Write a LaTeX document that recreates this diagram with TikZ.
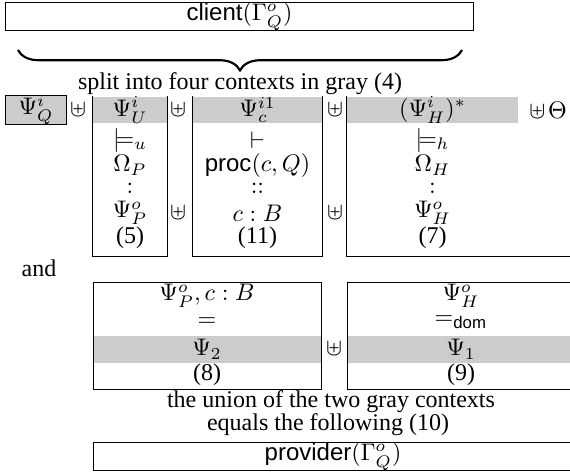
\documentclass[tikz,border=0pt]{standalone}
\usepackage{fontspec}
\setmainfont{Liberation Serif}
\setsansfont{Liberation Sans}
\usetikzlibrary{decorations.pathreplacing}
\colorlet{ctxgray}{black!20}

\begin{document}
\begin{tikzpicture}[
x=0.4167pt, y=-0.4167pt,
every node/.style={inner sep=0pt},
box/.style={draw, minimum height=11.25pt},
band/.style={fill=ctxgray, minimum height=11pt}
]
\useasboundingbox (0,0) rectangle (570,472);
\clip (0,0) rectangle (570,472);

\node[box, minimum width=195.4pt] (client) at (239.5,16.5) {\textsf{client}$(\Gamma^o_Q)$};

\coordinate (braceL) at (18,50);
\coordinate (braceR) at (462,50);
\draw[line width=0.9pt, decorate, decoration={brace, mirror, amplitude=8.5pt}] (braceL) -- (braceR);
\node (split) at (240,84) {split into four contexts in gray (4)};

\node[band, draw, minimum width=25.8pt] (psiQ) at (36,110) {$\Psi^i_Q$};
\node[band, minimum width=30.8pt] (psiU) at (130,110) {$\Psi^i_U$};
\node[band, minimum width=53.75pt] (psiC) at (257.5,110) {$\Psi^{i1}_c$};
\node[band, minimum width=71.25pt] (psiH) at (432.5,110) {$(\Psi^i_H)^*$};

\coordinate (rowbot) at (0,256);
\draw (psiU.north west) -- (psiU.west |- rowbot) -- (psiU.east |- rowbot) -- (psiU.north east);
\draw (psiC.north west) -- (psiC.west |- rowbot) -- (psiC.east |- rowbot) -- (psiC.north east);
\draw (psiH.north west) -- (psiH.west |- rowbot) -- (575,256);

\node (plus1) at (78,110) {$\uplus$};
\node (plus2) at (178,110) {$\uplus$};
\node (plus3) at (335,110) {$\uplus$};
\node (plus4) at (548,110) {$\uplus\mkern2mu\Theta$};
\node (plus5) at (178,213) {$\uplus$};
\node (plus6) at (335,213) {$\uplus$};

\node (u1) at (130,140) {$\models_u$};
\node (u2) at (130,165) {$\Omega_P$};
\node (u3) at (130,188) {$:$};
\node (u4) at (130,213) {$\Psi^o_P$};
\node (u5) at (130,238) {(5)};

\node (c1) at (257.5,140) {$\vdash$};
\node (c2) at (257.5,165) {\textsf{proc}$(c,Q)$};
\node (c3) at (257.5,188) {$::$};
\node (c4) at (257.5,213) {$c:B$};
\node (c5) at (257.5,238) {(11)};

\node (h1) at (432.5,140) {$\models_h$};
\node (h2) at (432.5,165) {$\Omega_H$};
\node (h3) at (432.5,188) {$:$};
\node (h4) at (432.5,213) {$\Psi^o_H$};
\node (h5) at (432.5,238) {(7)};

\node (and) at (39,268) {and};

\node[band, minimum width=95pt] (psi2) at (207,349.5) {$\Psi_2$};
\node[band, minimum width=95pt] (psi1) at (461,349.5) {$\Psi_1$};
\node[box, minimum width=95pt, minimum height=44.2pt] (left) at (207,336) {};
\node[box, minimum width=95pt, minimum height=44.2pt] (right) at (461,336) {};

\node (l1) at (207,296) {$\Psi^o_P, c:B$};
\node (l2) at (207,322) {$=$};
\node (l3) at (207,375) {(8)};
\node (r1) at (461,296) {$\Psi^o_H$};
\node (r2) at (461,322) {$=_{\mathsf{dom}}$};
\node (r3) at (461,375) {(9)};
\node (plus7) at (334,349) {$\uplus$};

\node (union) at (331,402) {the union of the two gray contexts};
\node (equals) at (328,425) {equals the following (10)};
\node[box, minimum width=200pt] (provider) at (333,456.5) {\textsf{provider}$(\Gamma^o_Q)$};

\end{tikzpicture}
\end{document}
